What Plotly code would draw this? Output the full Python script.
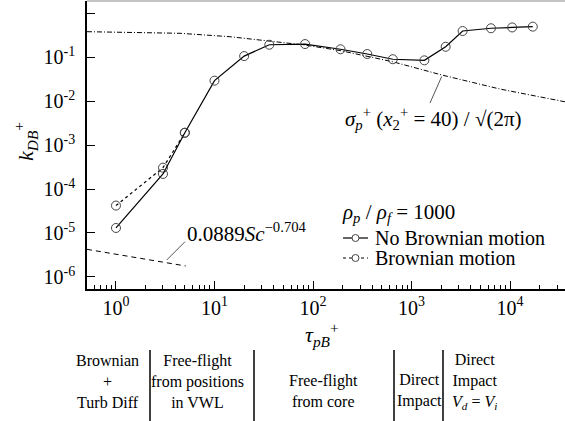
import numpy as np
import plotly.graph_objects as go

# ---------------- data ----------------
tau_no_brownian = [1, 3, 5, 10, 20, 36, 83, 190, 355, 645, 1350, 2220, 3300, 6400, 10500, 17000]
k_no_brownian = [1.3e-5, 2.2e-4, 1.9e-3, 0.029, 0.105, 0.19, 0.197, 0.15, 0.117, 0.089,
                 0.084, 0.171, 0.39, 0.45, 0.47, 0.49]

tau_brownian = [1, 3, 5]
k_brownian = [4.2e-5, 3.05e-4, 1.9e-3]

tau_sigma = [0.508, 4.47, 14.4, 33.9, 83, 192, 379, 645, 2030, 7900, 36000]
k_sigma = [0.376, 0.346, 0.289, 0.234, 0.187, 0.139, 0.1, 0.078, 0.039, 0.0187, 0.0096]

tau_sc = [0.508, 5.1]
k_sc = [4.25e-6, 1.78e-6]

x_tick_vals = [1, 10, 100, 1000, 10000]
x_tick_text = ["10<sup>0</sup>", "10<sup>1</sup>", "10<sup>2</sup>", "10<sup>3</sup>", "10<sup>4</sup>"]
y_tick_vals = [1e-6, 1e-5, 1e-4, 1e-3, 1e-2, 1e-1, 1]
y_tick_text = ["10<sup>-6</sup>", "10<sup>-5</sup>", "10<sup>-4</sup>", "10<sup>-3</sup>",
               "10<sup>-2</sup>", "10<sup>-1</sup>", "10<sup>0</sup>"]

regions = [
    (107, ["Brownian", "+", "Turb Diff"]),
    (197, ["Free-flight", "from positions", "in VWL"]),
    (323, ["Free-flight", "from core"]),
    (419, ["Direct", "Impact"]),
    (474, ["Direct", "Impact", "<i>V<sub>d</sub></i> = <i>V<sub>i</sub></i>"]),
]
region_separators_px = [150, 254, 394, 443]

# ---------------- layout geometry ----------------
W, H = 565, 421
ML, MR, MT, MB = 87, 0, 1, 132
PW = W - ML - MR
PH = H - MT - MB
FONT = "Liberation Serif, Times New Roman, serif"


def px(x):
    return (x - ML) / PW


def py(y):
    return (MT + PH - y) / PH


fig = go.Figure()

fig.add_trace(go.Scatter(
    x=tau_sigma, y=k_sigma, mode="lines", line=dict(color="black", width=1, dash="5px,2px,1px,2px"),
    showlegend=False, hoverinfo="skip"))
fig.add_trace(go.Scatter(
    x=tau_sc, y=k_sc, mode="lines", line=dict(color="black", width=1, dash="5px,4px"),
    showlegend=False, hoverinfo="skip"))
fig.add_trace(go.Scatter(
    x=tau_brownian, y=k_brownian, mode="lines+markers", name="Brownian motion",
    line=dict(color="black", width=1.2, dash="dot"),
    marker=dict(symbol="circle-open", size=9, color="#444", line=dict(width=1)),
    showlegend=False))
fig.add_trace(go.Scatter(
    x=tau_no_brownian, y=k_no_brownian, mode="lines+markers", name="No Brownian motion",
    line=dict(color="black", width=1.2),
    marker=dict(symbol="circle-open", size=9, color="#444", line=dict(width=1)),
    showlegend=False))

minor_x = [d * 10.0 ** k for k in range(-1, 5) for d in range(2, 10)]

fig.update_xaxes(
    type="log", range=[np.log10(0.508), np.log10(36100)],
    tickmode="array", tickvals=x_tick_vals, ticktext=x_tick_text,
    ticks="inside", ticklen=8, tickwidth=1, tickcolor="black",
    showline=True, linecolor="black", linewidth=1.5, showgrid=False, zeroline=False,
    tickfont=dict(family=FONT, size=20, color="black"), ticklabelstandoff=0,
    minor=dict(tickmode="array", tickvals=minor_x, ticks="inside", ticklen=4,
               tickcolor="black", tickwidth=1, showgrid=False),
)
fig.update_yaxes(
    type="log", range=[-6.273, 0.273],
    tickmode="array", tickvals=y_tick_vals, ticktext=y_tick_text,
    ticks="inside", ticklen=8, tickwidth=1, tickcolor="black",
    showline=True, linecolor="black", linewidth=1.5, showgrid=False, zeroline=False,
    tickfont=dict(family=FONT, size=20, color="black"), ticklabelstandoff=6,
)

annotations = []


def txt(x, y, text, size=19, xanchor="center", yanchor="middle", angle=0):
    annotations.append(dict(x=px(x), y=py(y), xref="paper", yref="paper", text=text,
                            showarrow=False, xanchor=xanchor, yanchor=yanchor, textangle=angle,
                            font=dict(family=FONT, size=size, color="black")))


# axis titles
txt(25, 142, "<i>k</i><sub><i>DB</i></sub><sup>+</sup>", size=22, angle=-90)
txt(322, 334, "<i>τ</i><sub><i>pB</i></sub><sup>+</sup>", size=22)

# curve labels
txt(185, 232, "0.0889<i>Sc</i><sup>−0.704</sup>", size=21, xanchor="left")
txt(343, 118, "<i>σ</i><sub><i>p</i></sub><sup>+</sup> (<i>x</i><sub>2</sub><sup>+</sup> = 40) / √(2π)",
    size=21, xanchor="left")

# legend (manual)
txt(340, 213, "<i>ρ</i><sub><i>p</i></sub> / <i>ρ</i><sub><i>f</i></sub> = 1000", size=21, xanchor="left")
txt(373, 238, "No Brownian motion", size=20, xanchor="left")
txt(373, 258, "Brownian motion", size=20, xanchor="left")

# region labels
for cx, lines in regions:
    cy = 381 if len(lines) == 3 else 390.5
    txt(cx, cy, "<br>".join(lines), size=16)

shapes = []
# top border
shapes.append(dict(type="line", xref="paper", yref="paper", x0=0, x1=1, y0=1, y1=1,
                   line=dict(color="#888", width=1)))
# leader lines
shapes.append(dict(type="line", xref="paper", yref="paper", x0=px(166.7), y0=py(260),
                   x1=px(185), y1=py(241.7), line=dict(color="#555", width=1)))
shapes.append(dict(type="line", xref="paper", yref="paper", x0=px(441.7), y0=py(76.5),
                   x1=px(430), y1=py(103), line=dict(color="#555", width=1)))
# legend samples
shapes.append(dict(type="line", xref="paper", yref="paper", x0=px(343), x1=px(368),
                   y0=py(238), y1=py(238), line=dict(color="black", width=1.2)))
shapes.append(dict(type="line", xref="paper", yref="paper", x0=px(343), x1=px(368),
                   y0=py(258), y1=py(258), line=dict(color="black", width=1.2, dash="dot")))
for yy in (238, 258):
    shapes.append(dict(type="circle", xref="paper", yref="paper",
                       x0=px(352), x1=px(359), y0=py(yy + 3.5), y1=py(yy - 3.5),
                       fillcolor="white", line=dict(color="#444", width=1)))
# region separators
for sx in region_separators_px:
    shapes.append(dict(type="line", xref="paper", yref="paper", x0=px(sx), x1=px(sx),
                       y0=py(350), y1=py(421), line=dict(color="black", width=1.5)))

fig.update_layout(
    width=W, height=H, margin=dict(l=ML, r=MR, t=MT, b=MB),
    paper_bgcolor="white", plot_bgcolor="white",
    annotations=annotations, shapes=shapes, showlegend=False,
    font=dict(family=FONT, color="black"),
)

fig.write_html("out.html")
